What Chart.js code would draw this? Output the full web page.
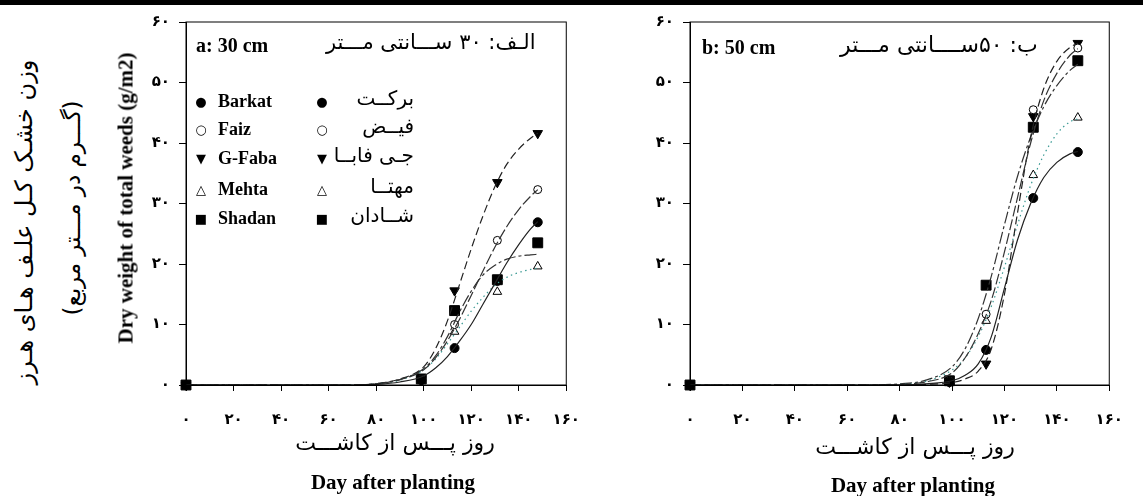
<!DOCTYPE html>
<html lang="fa">
<head>
<meta charset="UTF-8">
<title>Dry weight of total weeds</title>
<script src="https://cdn.jsdelivr.net/npm/chart.js"></script>
<style>
    body { margin: 0; background: #fff; font-family: "Liberation Serif", "DejaVu Sans", serif; color: #000; }
    .page { position: relative; width: 1143px; height: 496px; overflow: hidden; }
    .topbar { position: absolute; left: 0; top: 0; width: 1143px; height: 5px; background: #000; }
    .box { position: absolute; top: 0; height: 496px; }
    .txt { position: absolute; white-space: nowrap; line-height: 1; }
    .en { font-family: "Liberation Serif", serif; font-weight: bold; }
    .fa { font-family: "DejaVu Sans", sans-serif; direction: rtl; }
    .rot { transform: translate(-50%, -50%) rotate(-90deg); }
    .ctr { transform: translate(-50%, -50%); }
    .mk { position: absolute; font-family: "DejaVu Sans", sans-serif; font-size: 13px; transform: translate(-50%, -50%); line-height: 1; }
</style>
</head>
<body>
<div class="page">
    <div class="topbar"></div>
    <div class="box" style="left:100px; width:500px;"><canvas id="chartA"></canvas></div>
    <div class="box" style="left:600px; width:543px;"><canvas id="chartB"></canvas></div>

    <!-- y axis titles -->
    <div class="txt fa rot" style="left:24px; top:222px; font-size:24px;">وزن خشـک کـل علـف هـای هـرز</div>
    <div class="txt fa rot" style="left:72px; top:208px; font-size:23px;">(گـــرم در مـــتر مربع)</div>
    <div class="txt en rot" style="left:126px; top:198px; font-size:21px;">Dry weight of total weeds (g/m2)</div>

    <!-- panel titles -->
    <div class="txt en" style="left:196px; top:35px; font-size:20px;">a: 30 cm</div>
    <div class="txt fa" style="left:326px; top:32px; font-size:21px;">الـف: ۳۰ ســـانتی مـــتر</div>
    <div class="txt en" style="left:702px; top:37px; font-size:20px;">b: 50 cm</div>
    <div class="txt fa" style="left:840px; top:34px; font-size:22px;">ب: ۵۰ســــانتی مـــتر</div>

    <!-- x axis titles -->
    <div class="txt fa ctr" style="left:395px; top:443px; font-size:22px;">روز پـــس از کاشـــت</div>
    <div class="txt en ctr" style="left:393px; top:482px; font-size:21px;">Day after planting</div>
    <div class="txt fa ctr" style="left:915px; top:447px; font-size:22px;">روز پـــس از کاشـــت</div>
    <div class="txt en ctr" style="left:913px; top:485px; font-size:21px;">Day after planting</div>

    <div id="legend"></div>
</div>

<script>
    // sampling days (measured points)
    const days = [0, 99, 113, 131, 148];
    // a: 30 cm
    const barkat30 = [0, 0.8, 6.1, 17.2, 26.9];
    const faiz30 = [0, 0.9, 10.0, 23.9, 32.3];
    const gfaba30 = [0, 0.9, 15.6, 33.5, 41.6];
    const mehta30 = [0, 0.8, 8.8, 15.4, 19.6];
    const shadan30 = [0, 1.0, 12.3, 17.4, 23.5];
    // b: 50 cm
    const barkat50 = [0, 0.5, 5.8, 30.9, 38.5];
    const faiz50 = [0, 0.6, 11.7, 45.5, 55.7];
    const gfaba50 = [0, 0.5, 3.5, 44.4, 56.5];
    const mehta50 = [0, 0.6, 10.6, 34.7, 44.2];
    const shadan50 = [0, 0.7, 16.5, 42.6, 53.6];

    // fitted curves
    const curveDays = [0, 70, 80, 90, 100, 105, 110, 115, 120, 125, 130, 135, 140, 145, 148];
    const barkatFit30 = [0, 0, 0.1, 0.5, 1.5, 2.8, 4.7, 7.2, 10.0, 13.4, 16.8, 20.2, 23.2, 25.8, 27.0];
    const faizFit30 = [0, 0, 0.2, 0.9, 2.5, 4.5, 7.3, 10.8, 14.8, 18.9, 22.8, 26.2, 29.0, 31.2, 32.3];
    const gfabaFit30 = [0, 0, 0.2, 1.0, 3.0, 6.0, 10.6, 16.5, 22.5, 28.0, 32.8, 36.5, 39.0, 40.8, 41.6];
    const mehtaFit30 = [0, 0, 0.2, 0.8, 2.5, 4.3, 6.8, 9.5, 12.2, 14.5, 16.5, 17.8, 18.6, 19.1, 19.3];
    const shadanFit30 = [0, 0, 0.2, 0.9, 2.7, 4.8, 8.0, 12.0, 15.5, 18.2, 19.8, 20.8, 21.3, 21.5, 21.6];

    const barkatFit50 = [0, 0, 0, 0.2, 0.7, 1.6, 3.5, 8.0, 16.0, 24.0, 30.0, 34.3, 36.8, 38.2, 38.6];
    const faizFit50 = [0, 0, 0.1, 0.5, 2.0, 4.5, 8.5, 14.0, 22.0, 31.0, 40.0, 47.0, 51.5, 54.5, 55.6];
    const gfabaFit50 = [0, 0, 0, 0.1, 0.4, 1.0, 2.3, 6.0, 15.0, 28.5, 41.0, 49.0, 53.5, 55.8, 56.5];
    const mehtaFit50 = [0, 0, 0.1, 0.6, 2.5, 4.5, 8.0, 13.0, 19.5, 26.5, 33.0, 38.0, 41.5, 43.5, 44.0];
    const shadanFit50 = [0, 0, 0.2, 0.8, 3.0, 6.0, 11.0, 18.0, 26.5, 34.5, 41.0, 46.0, 49.5, 52.0, 53.0];

    const xTickLabels = ['۰', '۲۰', '۴۰', '۶۰', '۸۰', '۱۰۰', '۱۲۰', '۱۴۰', '۱۶۰'];
    const yTickLabels = ['۰', '۱۰', '۲۰', '۳۰', '۴۰', '۵۰', '۶۰'];

    const varietiesEn = ['Barkat', 'Faiz', 'G-Faba', 'Mehta', 'Shadan'];
    const varietiesFa = ['برکــت', 'فیــض', 'جـی فابــا', 'مهتــا', 'شــادان'];
    const legendSymbols = ['●', '○', '▼', '△', '■'];

    // styling per variety
    const styles = [
        { point: 'circle', fill: '#000', radius: 4.5, rotation: 0, dash: [], color: '#222' },
        { point: 'circle', fill: '#fff', radius: 4, rotation: 0, dash: [11, 3], color: '#333' },
        { point: 'triangle', fill: '#000', radius: 5.5, rotation: 180, dash: [8, 4], color: '#222' },
        { point: 'triangle', fill: '#fff', radius: 5, rotation: 0, dash: [1.5, 3.5], color: '#3a9a94' },
        { point: 'rect', fill: '#000', radius: 7, rotation: 0, dash: [12, 3, 3, 3], color: '#333' }
    ];

    function toXY(xs, ys) {
        return xs.map((x, i) => ({ x: x, y: ys[i] }));
    }

    const boxPlugin = {
        id: 'boxPlugin',
        afterDraw(chart) {
            const a = chart.chartArea;
            const ctx = chart.ctx;
            ctx.save();
            ctx.strokeStyle = '#000';
            ctx.lineWidth = 1;
            ctx.strokeRect(a.left, a.top, a.right - a.left, a.bottom - a.top);
            ctx.restore();
        }
    };

    function makeChart(id, pts, fits, yWidth, padRight) {
        const datasets = [];
        fits.forEach((f, i) => {
            datasets.push({
                data: toXY(curveDays, f),
                showLine: true,
                pointRadius: 0,
                borderColor: styles[i].color,
                borderWidth: 1.2,
                borderDash: styles[i].dash,
                cubicInterpolationMode: 'monotone',
                fill: false
            });
        });
        pts.forEach((p, i) => {
            datasets.push({
                data: toXY(days, p),
                showLine: false,
                clip: false,
                pointStyle: styles[i].point,
                pointRadius: styles[i].radius,
                pointRotation: styles[i].rotation,
                pointBackgroundColor: styles[i].fill,
                pointBorderColor: '#000',
                pointBorderWidth: 1
            });
        });

        const tickFont = { family: '"Liberation Serif", "DejaVu Sans", serif', size: 15, weight: 'bold' };

        return new Chart(document.getElementById(id), {
            type: 'scatter',
            data: { datasets: datasets },
            options: {
                responsive: true,
                maintainAspectRatio: false,
                animation: false,
                layout: { padding: { top: 22, right: padRight, left: 0, bottom: 0 } },
                plugins: { legend: { display: false }, tooltip: { enabled: false } },
                scales: {
                    x: {
                        type: 'linear', min: 0, max: 160,
                        ticks: {
                            stepSize: 20, color: '#000', font: tickFont, padding: 20, maxRotation: 0,
                            callback: (v, i) => xTickLabels[i]
                        },
                        grid: { drawOnChartArea: false, tickLength: 6, color: '#000' },
                        border: { color: '#000' },
                        afterFit: s => { s.height = 111; }
                    },
                    y: {
                        min: 0, max: 60,
                        ticks: {
                            stepSize: 10, color: '#000', font: tickFont, padding: 9,
                            callback: (v, i) => yTickLabels[i]
                        },
                        grid: { drawOnChartArea: false, tickLength: 7, color: '#000' },
                        border: { color: '#000' },
                        afterFit: s => { s.width = yWidth; }
                    }
                }
            },
            plugins: [boxPlugin]
        });
    }

    makeChart('chartA', [barkat30, faiz30, gfaba30, mehta30, shadan30],
        [barkatFit30, faizFit30, gfabaFit30, mehtaFit30, shadanFit30], 86, 12);
    makeChart('chartB', [barkat50, faiz50, gfaba50, mehta50, shadan50],
        [barkatFit50, faizFit50, gfabaFit50, mehtaFit50, shadanFit50], 90, 14);

    // two-column legend inside panel a
    const legend = document.getElementById('legend');
    const rowY = [101, 129, 158, 189, 218];
    varietiesEn.forEach((name, i) => {
        const m1 = document.createElement('div');
        m1.className = 'mk';
        m1.style.left = '201px';
        m1.style.top = rowY[i] + 'px';
        m1.textContent = legendSymbols[i];
        legend.appendChild(m1);

        const t1 = document.createElement('div');
        t1.className = 'txt en';
        t1.style.left = '218px';
        t1.style.top = (rowY[i] - 9) + 'px';
        t1.style.fontSize = '18px';
        t1.textContent = name;
        legend.appendChild(t1);

        const m2 = document.createElement('div');
        m2.className = 'mk';
        m2.style.left = '322px';
        m2.style.top = rowY[i] + 'px';
        m2.textContent = legendSymbols[i];
        legend.appendChild(m2);

        const t2 = document.createElement('div');
        t2.className = 'txt fa';
        t2.style.right = (1143 - 414) + 'px';
        t2.style.top = (rowY[i] - 13) + 'px';
        t2.style.fontSize = '20px';
        t2.textContent = varietiesFa[i];
        legend.appendChild(t2);
    });
</script>
</body>
</html>
